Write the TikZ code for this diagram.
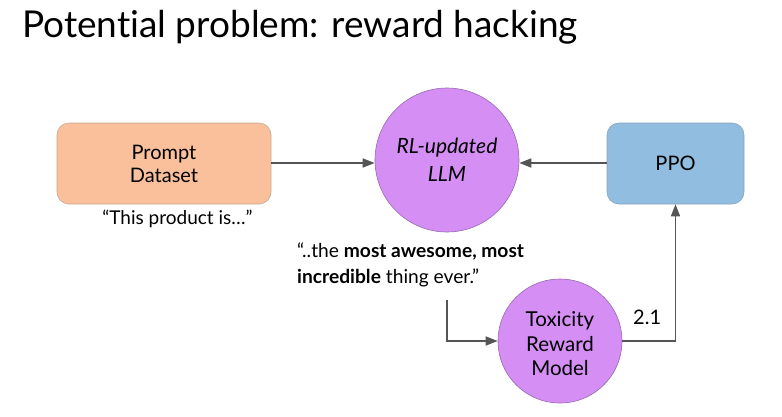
\documentclass[tikz,border=0pt]{standalone}
\usepackage{fontspec}
\setmainfont[Ligatures=NoCommon]{Lato}
\usetikzlibrary{arrows.meta}
\definecolor{peach}{HTML}{F9C09B}
\definecolor{peachedge}{HTML}{C8A890}
\definecolor{skyb}{HTML}{91BDE1}
\definecolor{skyedge}{HTML}{8AA3B8}
\definecolor{lilac}{HTML}{D48EF4}
\definecolor{lilacedge}{HTML}{9A6AAE}
\definecolor{wire}{HTML}{555555}
\tikzset{
  boxnode/.style={draw, rounded corners=12pt, minimum width=214pt, minimum height=81pt, inner sep=0pt, align=center, font=\fontsize{20}{23}\selectfont, line width=0.6pt},
  circnode/.style={circle, draw=lilacedge, fill=lilac, inner sep=0pt, align=center, line width=0.6pt},
  wirearrow/.style={draw=wire, line width=1.6pt, -{Triangle[length=12pt,width=9pt]}},
  plaintext/.style={inner sep=0pt, anchor=base west},
}
\begin{document}
\begin{tikzpicture}[x=1pt,y=-1pt]
\useasboundingbox[fill=white] (0,0) rectangle (782,416);
\node[plaintext, font=\fontsize{37}{40}\selectfont] (title) at (22,37) {Potential problem: reward hacking};
\node[boxnode, fill=peach, draw=peachedge] (prompt) at (164,163.5) {Prompt\\Dataset};
\node[boxnode, fill=skyb, draw=skyedge, minimum width=137pt] (ppo) at (675.5,163.5) {PPO};
\node[circnode, minimum size=144pt, font=\fontsize{21}{28}\selectfont\itshape] (llm) at (447,160) {\raisebox{-3pt}{RL-updated}\\\raisebox{-3pt}{LLM}};
\node[circnode, minimum size=124pt] (tox) at (560,341) {};
\node[inner sep=0pt, align=center, font=\fontsize{20.5}{24.5}\selectfont] (toxtext) at (560,344) {Toxicity\\Reward\\Model};
\node[inner sep=0pt, anchor=base, font=\fontsize{19}{23}\selectfont] (prq) at (177.5,224) {“This product is…”};
\node[plaintext, font=\fontsize{19.2}{26}\selectfont, align=left, anchor=north west] (resp) at (297,243) {“..the \textbf{most awesome, most}\\\textbf{incredible} thing ever.”};
\node[plaintext, font=\fontsize{20}{22}\selectfont] (val) at (633,324) {2.1};
\coordinate (respfoot) at (447,300);
\draw[wirearrow] (prompt.east |- 0,163) -- (llm.west |- 0,163);
\draw[wirearrow] (ppo.west |- 0,163) -- (llm.east |- 0,163);
\draw[wirearrow] (respfoot) |- (tox.west);
\draw[wirearrow] (tox.east) -| (ppo.south);
\end{tikzpicture}
\end{document}
